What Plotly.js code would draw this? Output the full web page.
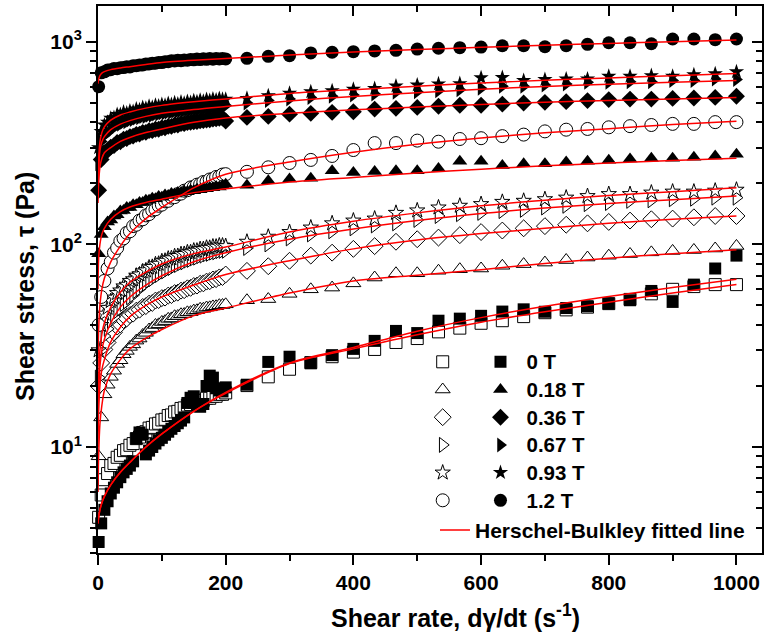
<!DOCTYPE html>
<html><head><meta charset="utf-8">
<script src="https://cdn.plot.ly/plotly-3.0.1.min.js"></script>
<style>html,body{margin:0;padding:0;background:#fff}#chart{width:764px;height:639px}</style>
</head><body><div id="chart"></div>
<script>
// Shear rate (s^-1): dense sweep 0-200, then sparse points to 1000
const shearRate = [1,5,10,15,20,25,30,35,40,45,50,55,60,65,70,75,80,85,90,95,100,105,110,115,120,125,130,135,140,145,150,155,160,165,170,175,180,185,190,195,
  200,233.3,266.7,300,333.3,366.7,400,433.3,466.7,500,533.3,566.7,600,633.3,666.7,700,733.3,766.7,800,833.3,866.7,900,933.3,966.7,1000];

const fieldLabels = ['0 T','0.18 T','0.36 T','0.67 T','0.93 T','1.2 T'];

// Open-symbol series (shear stress, Pa)
const stressOpen0T = [4.5,5.8,6.9,7.4,8.1,8.3,8.9,9.1,9.6,9.7,10.2,10.4,11.0,11.2,11.8,11.9,12.4,12.5,13.0,13.1,13.6,13.7,14.3,14.4,14.9,15.0,15.5,15.6,16.1,16.2,16.6,16.6,17.0,17.0,17.4,17.4,17.8,17.8,18.2,18.2,
  18.5,20.1,22.2,24.2,26.1,27.9,29.4,30.3,32.8,34.3,37.0,38.6,40.8,42.0,44.0,46.0,47.5,49.0,51.0,53.5,57.0,60.0,61.9,63.3,63.3];
const stressOpen018T = [9.0,14.0,18.2,20.3,22.2,23.8,25.7,26.8,28.7,29.8,31.2,32.1,33.5,34.3,35.7,36.6,38.0,38.6,40.0,40.3,41.4,41.8,42.9,43.1,44.2,44.3,45.2,45.3,46.2,46.3,47.1,47.3,48.1,48.1,48.8,48.9,49.4,49.5,50.1,50.2,
  50.6,53.0,53.7,57.0,60.0,61.2,64.2,68.6,72.0,72.0,74.1,75.4,76.0,78.4,79.9,81.3,83.7,86.1,87.9,89.6,91.3,92.8,93.8,95.4,98.2];
const stressOpen036T = [20,26,30.3,32.8,35.3,36.8,39.3,40.3,42.3,43.1,44.8,45.5,47.1,47.6,49.1,49.6,51.0,51.4,52.8,53.1,54.3,54.6,55.9,56.2,57.5,57.8,59.1,59.4,60.7,61.0,62.3,62.6,63.9,64.2,65.5,65.8,67.1,67.4,68.7,69.0,
  71,74,78,83,88,91,95,98,103,106,108,111,115,117,120,123,125,127,129,131,133,134,136,138,138];
const stressOpen067T = [22,30,35.3,38.3,41.8,43.8,46.8,48.3,50.8,52.3,54.8,56.3,58.8,60.3,62.8,64.1,66.3,67.4,69.5,70.6,72.6,73.6,75.5,76.4,78.3,79.1,80.8,81.5,83.2,83.8,85.4,86.0,87.5,88.0,89.4,89.8,91.1,91.4,92.6,92.9,
  93,96,100,107,112,116,120,124,127,132,138,141,143,146,148,152,155,158,160,164,165,167,168,170,170];
const stressOpen093T = [30,40,45.5,48.6,52.5,54.6,57.5,59.2,62.0,63.2,66.0,67.2,70.0,71.0,73.5,74.4,76.8,77.4,79.7,80.2,82.5,83.0,85.0,85.4,87.3,87.6,89.4,89.6,91.3,91.4,93.1,93.1,94.7,94.7,96.2,96.1,97.5,97.4,98.7,98.6,
  98,103,109,115,121,127,131,134,143,147,152,155,158,162,164,167,170,173,177,177,180,182,182,184,186];
const stressOpen12T = [40,55,66,76,82,91,96,104,107,114,116,123,125,131,133,139,141,147,149,155,157,163,164,170,171,177,178,184,185,191,192,197,198,203,204,209,210,215,216,221,
  222,228,240,252,261,273,292,316,316,325,321,331,334,342,348,361,368,371,378,383,388,393,393,401,401];

// Filled-symbol series (shear stress, Pa)
const stressFilled0T = [3.4,4.2,4.9,5.4,5.9,6.3,6.7,7.1,7.5,7.8,8.1,8.5,11.0,11.8,11.5,9.2,9.6,10.0,10.4,10.8,11.1,11.5,11.9,12.3,12.7,13.1,13.5,14.0,16.5,17.5,17.8,16.0,15.8,16.3,20.0,22.5,22.0,19.5,19.0,18.8,
  19.7,20.3,26.3,27.9,25.9,28.4,30.5,33.4,37.4,36.5,42.0,43.0,44.4,46.6,47.8,46.5,48.5,49.5,51.0,53.0,58.9,52.0,63.3,76.0,88.0];
const stressFilled018T = [90,112,122,129,132,138,140,146,147,152,152,157,157,161,161,165,165,169,168,172,171,175,174,178,177,180,180,183,182,185,184,187,186,189,188,191,190,193,192,195,
  198,196,206,210,212,231,226,229,231,231,237,257,257,245,250,250,255,257,260,264,266,266,269,273,278];
const stressFilled036T = [185,262,283,291,302,307,318,321,330,333,340,342,349,350,357,357,364,364,370,370,376,376,382,382,388,388,394,394,399,400,403,404,407,408,411,412,415,416,419,420,
  406,423,428,439,443,448,451,465,469,474,480,486,486,492,498,502,506,512,518,521,521,525,527,531,538];
const stressFilled067T = [250,322,344,355,370,377,388,392,401,403,411,413,420,421,428,428,434,434,440,440,445,445,450,449,454,453,458,457,462,461,466,465,470,468,473,472,476,475,479,478,
  484,498,512,521,531,538,546,552,563,567,573,580,589,603,603,611,619,631,631,635,635,643,643,655,650];
const stressFilled093T = [300,360,388,400,419,422,437,437,449,445,455,452,465,461,473,469,480,475,486,481,490,485,495,489,499,493,503,497,507,501,511,505,514,508,518,512,521,515,524,519,
  520,525,541,557,566,572,583,588,604,611,619,621,663,665,643,650,655,655,675,675,680,675,686,694,711];
const stressFilled12T = [600,702,710,724,727,737,736,744,745,752,751,760,761,767,768,775,776,782,783,790,789,797,797,806,803,810,806,813,810,817,814,821,816,823,818,826,820,825,822,826,
  822,828,847,853,880,887,893,900,907,920,928,934,941,955,955,944,955,970,988,988,977,1031,1031,1023,1031];

// Herschel-Bulkley fitted lines
const fitRate = [0,1,3,6,10,20,35,50,75,100,150,200,300,400,500,600,700,800,900,1000];
const fitOpen0T   = [4.2,4.5,4.9,5.3,5.7,6.5,7.5,8.4,10.0,11.6,15.0,18.4,25.8,30.5,35.8,41.3,46.5,51.8,57.5,63.3];
const fitOpen018T = [6,9,13,16,19,23,27,30.5,34.5,38,44.5,48.5,57.5,66,70.5,75,80.5,85.5,90,94];
const fitOpen036T = [10,15,20,24,27,33,39,44,50,55,63,71,83,95,105,113,120,127,133,138];
const fitOpen067T = [12,18,25,30,34,41,49,55,63,70,82,91,106,119,131,142,151,159,166,173];
const fitOpen093T = [15,22,30,36,41,49,58,65,73,80,90,97,115,130,143,155,165,174,182,190];
const fitOpen12T  = [25,38,50,60,68,82,98,113,134,152,190,222,255,285,312,335,355,372,390,405];
const fitFilled0T   = [4.2,4.5,4.9,5.3,5.7,6.5,7.5,8.4,10.0,11.6,15.0,18.6,26.0,31.0,37.3,43.5,49.5,55.3,61.3,67.3];
const fitFilled018T = [60,85,100,112,120,133,145,153,161,167,180,188,203,214,225,235,244,252,259,266];
const fitFilled036T = [160,200,240,265,283,300,322,337,356,371,400,420,443,461,476,490,503,513,522,531];
const fitFilled067T = [170,230,290,320,340,368,392,408,428,443,463,479,510,537,560,582,601,616,630,643];
const fitFilled093T = [180,260,320,355,380,410,435,450,470,485,505,522,555,580,603,625,645,662,680,697];
const fitFilled12T  = [620,650,680,700,712,728,742,753,772,790,810,825,860,890,915,938,960,980,1000,1020];

const xTickVals = [0,200,400,600,800,1000];
const yTickVals = [10,100,1000];
const yTickText = ['10<sup>1</sup>','10<sup>2</sup>','10<sup>3</sup>'];
const yMinorVals = [3,4,5,6,7,8,9,20,30,40,50,60,70,80,90,200,300,400,500,600,700,800,900];

// ---- build ----
const openSeries = [stressOpen0T,stressOpen018T,stressOpen036T,stressOpen067T,stressOpen093T,stressOpen12T];
const filledSeries = [stressFilled0T,stressFilled018T,stressFilled036T,stressFilled067T,stressFilled093T,stressFilled12T];
const fitSeries = [fitOpen0T,fitFilled0T,fitOpen018T,fitFilled018T,fitOpen036T,fitFilled036T,fitOpen067T,fitFilled067T,fitOpen093T,fitFilled093T,fitOpen12T,fitFilled12T];
const symbols = ['square','triangle-up','diamond','triangle-right','star','circle'];
const sizes = [12,13,13,13,11.5,13];

const FONT = 'Liberation Sans, Arial, Helvetica, sans-serif';
const traces = [];
openSeries.forEach((ys,i)=>{
  traces.push({type:'scatter', mode:'markers', x:shearRate, y:ys, name:'', legend:'legend',
    cliponaxis:false, hoverinfo:'skip',
    marker:{symbol:symbols[i], size:sizes[i], color:'white', line:{color:'black', width:1}}});
});
filledSeries.forEach((ys,i)=>{
  traces.push({type:'scatter', mode:'markers', x:shearRate, y:ys,
    name:'<span style="font-size:20.5px">'+fieldLabels[i]+'</span>', legend:'legend2',
    cliponaxis:false, hoverinfo:'skip',
    marker:{symbol:symbols[i], size:sizes[i], color:'black', line:{width:0}}});
});
fitSeries.forEach((ys,i)=>{
  traces.push({type:'scatter', mode:'lines', x:fitRate, y:ys, name:'Herschel-Bulkley fitted line',
    legend:'legend3', showlegend:i===0, hoverinfo:'skip',
    line:{color:'#ff0000', width:1.5, shape:'spline', smoothing:0.8}});
});
traces.push({type:'scatter', mode:'markers', x:[], y:[], xaxis:'x2', yaxis:'y2', showlegend:false, hoverinfo:'skip'});

const tickFont = {family:FONT, size:21, color:'black', weight:'bold'};
const yRange = [Math.log10(3), Math.log10(1500)];
const xRange = [0, 1040];

const layout = {
  width:764, height:639,
  margin:{l:98, r:2, t:6, b:86},
  paper_bgcolor:'white', plot_bgcolor:'white',
  font:{family:FONT, color:'black'},
  xaxis:{range:xRange, tickmode:'array', tickvals:xTickVals, ticks:'outside', ticklen:10, tickwidth:2, tickcolor:'black',
    minor:{tickmode:'linear', tick0:0, dtick:100, ticks:'outside', ticklen:6, tickwidth:2, tickcolor:'black'},
    showline:true, linewidth:2, linecolor:'black', showgrid:false, zeroline:false, tickfont:tickFont},
  xaxis2:{range:xRange, overlaying:'x', side:'top', anchor:'y', tickmode:'array', tickvals:xTickVals, ticks:'inside', ticklen:10, tickwidth:2, tickcolor:'black',
    minor:{tickmode:'linear', tick0:0, dtick:100, ticks:'inside', ticklen:6, tickwidth:2, tickcolor:'black'},
    showline:true, linewidth:2, linecolor:'black', showgrid:false, zeroline:false, showticklabels:false},
  yaxis:{type:'log', range:yRange, tickmode:'array', tickvals:yTickVals, ticktext:yTickText, ticks:'outside', ticklen:10, tickwidth:2, tickcolor:'black',
    minor:{tickmode:'array', tickvals:yMinorVals, ticks:'outside', ticklen:6, tickwidth:2, tickcolor:'black'},
    showline:true, linewidth:2, linecolor:'black', showgrid:false, zeroline:false, tickfont:tickFont},
  yaxis2:{type:'log', range:yRange, overlaying:'y', side:'right', anchor:'x', tickmode:'array', tickvals:yTickVals, ticks:'inside', ticklen:10, tickwidth:2, tickcolor:'black',
    minor:{tickmode:'array', tickvals:yMinorVals, ticks:'inside', ticklen:6, tickwidth:2, tickcolor:'black'},
    showline:true, linewidth:2, linecolor:'black', showgrid:false, zeroline:false, showticklabels:false},
  legend:{x:0.489, y:0.384, xanchor:'left', yanchor:'top', bgcolor:'rgba(0,0,0,0)', borderwidth:0,
    font:{family:FONT, size:19, color:'black', weight:'bold'}, itemclick:false, itemdoubleclick:false},
  legend2:{x:0.567, y:0.384, xanchor:'left', yanchor:'top', bgcolor:'rgba(0,0,0,0)', borderwidth:0, itemwidth:42,
    font:{family:FONT, size:19, color:'black', weight:'bold'}, itemclick:false, itemdoubleclick:false},
  legend3:{x:0.5075, y:0.079, xanchor:'left', yanchor:'top', bgcolor:'rgba(0,0,0,0)', borderwidth:0,
    font:{family:FONT, size:21, color:'black', weight:'bold'}, itemclick:false, itemdoubleclick:false},
  annotations:[
    {text:'Shear rate, dγ/dt (s<sup>-1</sup>)', xref:'paper', yref:'paper', x:0.538, y:-0.115, xanchor:'center', yanchor:'middle',
     showarrow:false, font:{family:FONT, size:25, color:'black', weight:'bold'}},
    {text:'Shear stress, τ (Pa)', xref:'paper', yref:'paper', x:-0.11, y:0.488, xanchor:'center', yanchor:'middle', textangle:-90,
     showarrow:false, font:{family:FONT, size:25, color:'black', weight:'bold'}}
  ],
  showlegend:true
};

Plotly.newPlot('chart', traces, layout, {displayModeBar:false, staticPlot:true});
</script>
</body></html>
